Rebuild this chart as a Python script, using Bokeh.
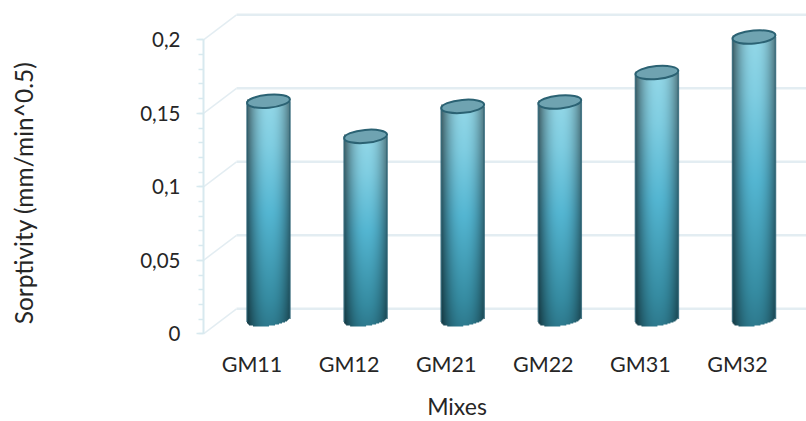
import numpy as np
from bokeh.core.properties import value
from bokeh.embed import file_html
from bokeh.models import FixedTicker, Range1d
from bokeh.plotting import figure
from bokeh.resources import INLINE

# Sorptivity per mix
mixes = ["GM11", "GM12", "GM21", "GM22", "GM31", "GM32"]
sorptivity = [0.1495, 0.1256, 0.146, 0.149, 0.169, 0.1932]
y_ticks = [0, 0.05, 0.1, 0.15, 0.2]
y_tick_labels = ["0", "0,05", "0,1", "0,15", "0,2"]

W, H = 806, 421
ORIGIN_X, ORIGIN_Y = 203, 333.3        # front corner of the floor, in page pixels
PX_PER_CAT = 97.1
PX_PER_VAL = 294.0 / 0.2
CAT0_PX = 251.5


def px_x(px):
    return (px - CAT0_PX) / PX_PER_CAT


def px_y(px):
    return (ORIGIN_Y - px) / PX_PER_VAL


# The frame fills the page; both axes are pinned at the floor corner
p = figure(width=W, height=H, x_range=Range1d(px_x(0), px_x(W)), y_range=Range1d(px_y(H), px_y(0)),
           output_backend="svg", toolbar_location=None, min_border=0,
           outline_line_color=None, background_fill_color="white", border_fill_color="white")
p.grid.visible = False

GRID = "#e3edf2"
AXIS = "#d8e9ef"
TEXT = "#262626"
FONT = "Lato"

# Depth of the floor: the back wall sits up and to the right of the front axis
depth_x = 33 / PX_PER_CAT
depth_y = 25 / PX_PER_VAL
front_x = px_x(ORIGIN_X)
ticks = np.array(y_ticks)
p.segment(front_x, ticks, front_x + depth_x, ticks + depth_y, line_color=GRID, line_width=1.5)
p.segment(front_x + depth_x, ticks + depth_y, px_x(W), ticks + depth_y, line_color=GRID, line_width=2.5)

# Axes
p.yaxis.fixed_location = front_x
p.yaxis.bounds = (0, 0.2)
p.yaxis.ticker = FixedTicker(ticks=y_ticks,
                             minor_ticks=[round(i * 0.01, 2) for i in range(21)])
p.yaxis.major_label_overrides = dict(zip(y_ticks, y_tick_labels))
p.yaxis.major_label_text_font = FONT
p.yaxis.major_label_text_font_size = "20.5px"
p.yaxis.major_label_text_color = TEXT
p.yaxis.major_label_standoff = 16
p.yaxis.axis_line_color = AXIS
p.yaxis.axis_line_width = 2
p.yaxis.major_tick_line_color = AXIS
p.yaxis.major_tick_line_width = 1.5
p.yaxis.major_tick_in = 0
p.yaxis.major_tick_out = 7
p.yaxis.minor_tick_line_color = AXIS
p.yaxis.minor_tick_line_width = 1.5
p.yaxis.minor_tick_in = 0
p.yaxis.minor_tick_out = 5

p.xaxis.fixed_location = 0
p.xaxis.ticker = FixedTicker(ticks=list(range(len(mixes))))
p.xaxis.major_label_overrides = dict(enumerate(mixes))
p.xaxis.major_label_text_font = FONT
p.xaxis.major_label_text_font_size = "21.5px"
p.xaxis.major_label_text_color = TEXT
p.xaxis.major_label_standoff = 17
p.xaxis.axis_line_color = None
p.xaxis.major_tick_in = 0
p.xaxis.major_tick_out = 0
p.xaxis.major_tick_line_color = None
p.xaxis.minor_tick_out = 0
p.xaxis.minor_tick_line_color = None

# Cylinders stand mid-depth on the floor: shaded body as an image, then sides and cap
BAR_W = 43
CAP_H = 13
BASE_PX = 12.8
half_w = (BAR_W / 2) / PX_PER_CAT
base = BASE_PX / PX_PER_VAL
bar_shift = depth_x / 2


def cylinder_body(height_px):
    rows = int(round(height_px)) + 8
    cols = BAR_W
    u = np.linspace(-1, 1, cols)
    t = np.linspace(0, 1, rows)
    # vertical ramp: deep teal foot, saturated middle, pale top
    stops_t = [0.0, 0.12, 0.5, 0.8, 1.0]
    stops = np.array([[46, 122, 142], [54, 140, 162], [84, 182, 210],
                      [128, 206, 226], [148, 216, 232]], dtype=float)
    rgb = np.stack([np.interp(t, stops_t, stops[:, c]) for c in range(3)], axis=1)
    # horizontal shading: broad centre, falling off near the sides
    shade = 1 - 0.48 * np.abs(u - 0.05) ** 2.2
    img = (rgb[:, None, :] * shade[None, :, None]).astype(np.uint32)
    alpha = np.full((rows, cols), 255, dtype=np.uint32)
    # rounded foot, tilted like the cap
    foot = 5.5 * np.sqrt(np.clip(1 - u ** 2, 0, 1)) - 2.5 * u
    r = np.arange(rows)[:, None]
    alpha[(r - 6.5 + foot[None, :]) < 0] = 0
    return img[:, :, 0] | (img[:, :, 1] << 8) | (img[:, :, 2] << 16) | (alpha << 24)


xs = np.arange(len(mixes)) + bar_shift
for x, v in zip(xs, sorptivity):
    body = cylinder_body(v * PX_PER_VAL)
    p.image_rgba(image=[body], x=[x - half_w], y=[base - 6.5 / PX_PER_VAL],
                 dw=[2 * half_w], dh=[body.shape[0] / PX_PER_VAL])

tops = np.array(sorptivity) + base
OUTLINE = "#2b6273"
p.segment(xs - half_w, tops, xs - half_w, base - 1 / PX_PER_VAL, line_color=OUTLINE, line_width=1.5, line_alpha=0.8)
p.segment(xs + half_w, tops, xs + half_w, base + 2 / PX_PER_VAL, line_color=OUTLINE, line_width=1.5, line_alpha=0.8)
p.ellipse(xs, tops, width=BAR_W, height=CAP_H, width_units="screen", height_units="screen",
          angle=0.09, fill_color="#6fa3b1", line_color=OUTLINE, line_width=2)

# Axis titles
p.text([px_x(22.5)], [px_y(192.5)], text=["Sorptivity (mm/min^0.5)"], angle=np.pi / 2,
       text_font=value(FONT), text_font_size="24.5px", text_color=TEXT,
       text_align="center", text_baseline="middle")
p.text([px_x(456.5)], [px_y(405)], text=["Mixes"],
       text_font=value(FONT), text_font_size="23px", text_color=TEXT,
       text_align="center", text_baseline="middle")

open("out.html", "w").write(file_html(p, INLINE))
